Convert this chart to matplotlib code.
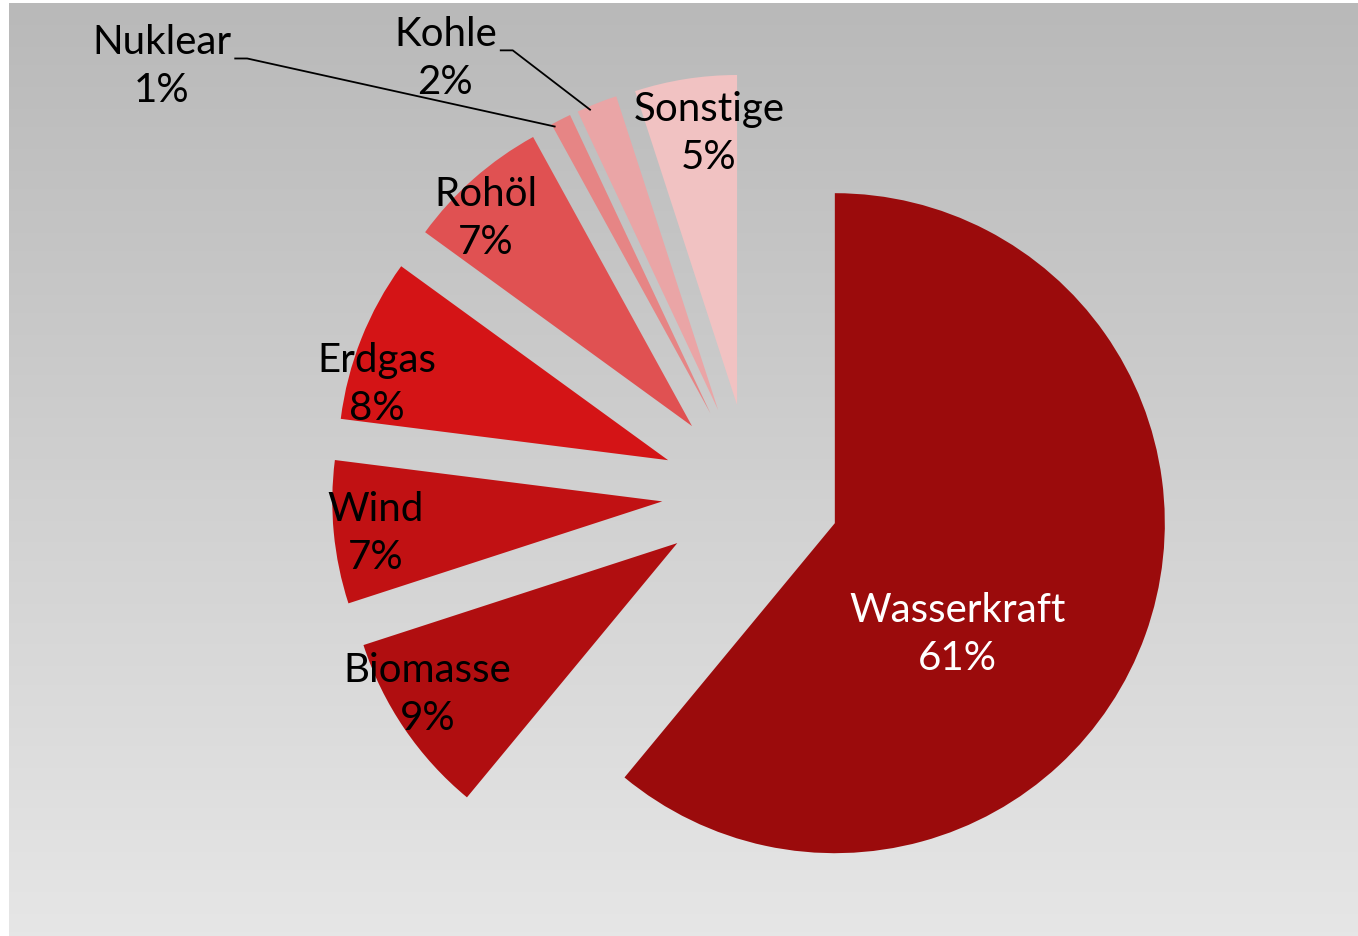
import numpy as np
import matplotlib
matplotlib.use('Agg')
import matplotlib.pyplot as plt

# data
sources = ['Wasserkraft', 'Biomasse', 'Wind', 'Erdgas', 'Rohöl', 'Nuklear', 'Kohle', 'Sonstige']
shares = [61, 9, 7, 8, 7, 1, 2, 5]
colors = ['#9B0B0C', '#B00E10', '#C11113', '#D41416', '#E05152', '#E68585', '#EAA5A6', '#F1C2C2']
text_colors = ['white', 'black', 'black', 'black', 'black', 'black', 'black', 'black']

# label placement: (distance from slice tip in radii, angle offset from slice middle in deg)
label_pos = [(0.50, -22.0), (0.883, -3.2), (0.875, 0.8), (0.912, 6.8),
             (0.889, 3.2), (1.97, 30.6), (1.352, 16.1), (0.83, -3.1)]
leader = [False, False, False, False, False, True, True, False]

plt.rcParams['font.family'] = ['Lato', 'DejaVu Sans']

W, H = 1358, 937
fig = plt.figure(figsize=(W / 100, H / 100), dpi=100)
fig.patch.set_facecolor('white')

# gradient background
bg = fig.add_axes([9 / W, 0, (W - 9) / W, (H - 4) / H])
grad = np.linspace(185, 230, 256).reshape(-1, 1) / 255.0
bg.imshow(np.dstack([grad, grad, grad]), aspect='auto', extent=[0, 1, 0, 1], origin='upper')
bg.set_axis_off()

ax = fig.add_axes([0, 0, 1, 1])
ax.patch.set_alpha(0)
wedges, _ = ax.pie(shares, startangle=90, counterclock=False, radius=1,
                   explode=[0.27] * len(shares), colors=colors,
                   wedgeprops=dict(linewidth=0))

# pie centre sits at (751, 494) px, radius 330 px
R, cx, cy = 330.0, 751.0, 494.0
ax.set_xlim(-cx / R, (W - cx) / R)
ax.set_ylim((cy - H) / R, cy / R)
ax.set_aspect('auto')
ax.set_axis_off()

texts = []
for w, name, pct, tc, (d, off) in zip(wedges, sources, shares, text_colors, label_pos):
    mid = 0.5 * (w.theta1 + w.theta2)
    a = np.radians(mid + off)
    x = w.center[0] + d * np.cos(a)
    y = w.center[1] + d * np.sin(a)
    t = ax.text(x, y, f'{name}\n{pct}%', ha='center', va='center', multialignment='center',
                fontsize=29, color=tc, linespacing=1.36)
    texts.append(t)

fig.canvas.draw()
inv = ax.transData.inverted()
for w, t, has_line in zip(wedges, texts, leader):
    if not has_line:
        continue
    bb = t.get_window_extent()
    # elbow at the baseline of the first line, right of the text
    x0, y0 = inv.transform((bb.x1 + 4, bb.y0 + bb.height * 0.58))
    x1, _ = inv.transform((bb.x1 + 16, 0))
    mid = np.radians(0.5 * (w.theta1 + w.theta2) + 1.5)
    xe = w.center[0] + 0.99 * np.cos(mid)
    ye = w.center[1] + 0.99 * np.sin(mid)
    ax.plot([x0, x1, xe], [y0, y0, ye], color='black', linewidth=1.3)

fig.savefig('out.png', dpi=100)
